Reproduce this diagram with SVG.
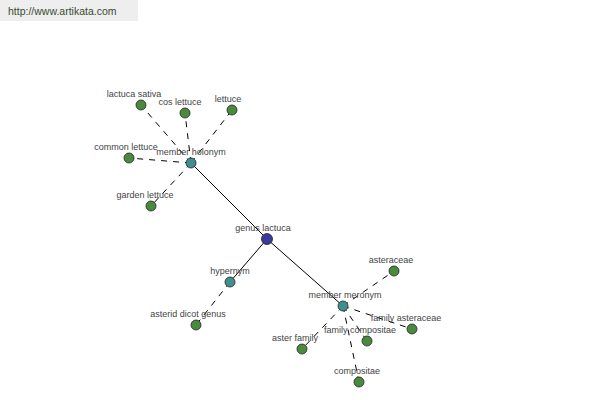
<svg xmlns="http://www.w3.org/2000/svg" width="600" height="400" viewBox="0 0 600 400">
<style>
.t{font-family:"Liberation Sans",Arial,sans-serif;font-size:9px;fill:#444;text-anchor:middle}
.s{stroke:#000;stroke-width:1;fill:none}
.d{stroke:#000;stroke-width:1;stroke-dasharray:6,6;fill:none}
.n{stroke:#222;stroke-width:0.8}
.g{fill:#4a8a3c}
.c{fill:#3f8f8f}
.b{fill:#3b3b9b}
</style>
<rect width="600" height="400" fill="#fff"/>
<rect x="0" y="0" width="138" height="21" fill="#eeeeee"/>
<text x="8" y="15" style="font-family:'Liberation Sans',Arial,sans-serif;font-size:10.5px;fill:#3a4a30">http://www.artikata.com</text>
<g id="connectors">
<line class="s" x1="267" y1="239" x2="191" y2="163"/>
<line class="s" x1="267" y1="239" x2="343" y2="306"/>
<line class="s" x1="267" y1="239" x2="230" y2="282"/>
<line class="d" x1="191" y1="163" x2="141" y2="105"/>
<line class="d" x1="191" y1="163" x2="185" y2="113"/>
<line class="d" x1="191" y1="163" x2="232" y2="110"/>
<line class="d" x1="191" y1="163" x2="129" y2="158"/>
<line class="d" x1="191" y1="163" x2="151" y2="206"/>
<line class="d" x1="230" y1="282" x2="196" y2="325"/>
<line class="d" x1="343" y1="306" x2="394" y2="271"/>
<line class="d" x1="343" y1="306" x2="412" y2="329"/>
<line class="d" x1="343" y1="306" x2="367" y2="341"/>
<line class="d" x1="343" y1="306" x2="302" y2="349"/>
<line class="d" x1="343" y1="306" x2="359" y2="382"/>
</g>
<g id="lactuca-sativa"><circle class="n g" cx="141" cy="105" r="5"/><text class="t" x="134" y="97">lactuca sativa</text></g>
<g id="cos-lettuce"><circle class="n g" cx="185" cy="113" r="5"/><text class="t" x="180" y="105">cos lettuce</text></g>
<g id="lettuce"><circle class="n g" cx="232" cy="110" r="5"/><text class="t" x="228" y="102">lettuce</text></g>
<g id="common-lettuce"><circle class="n g" cx="129" cy="158" r="5"/><text class="t" x="126" y="150">common lettuce</text></g>
<g id="garden-lettuce"><circle class="n g" cx="151" cy="206" r="5"/><text class="t" x="145" y="198">garden lettuce</text></g>
<g id="member-holonym"><circle class="n c" cx="191" cy="163" r="5"/><text class="t" x="191" y="155">member holonym</text></g>
<g id="genus-lactuca"><circle class="n b" cx="267" cy="239" r="5.5"/><text class="t" x="263" y="231">genus lactuca</text></g>
<g id="hypernym"><circle class="n c" cx="230" cy="282" r="5"/><text class="t" x="230" y="274">hypernym</text></g>
<g id="asterid-dicot-genus"><circle class="n g" cx="196" cy="325" r="5"/><text class="t" x="188" y="317">asterid dicot genus</text></g>
<g id="member-meronym"><circle class="n c" cx="343" cy="306" r="5"/><text class="t" x="345" y="298">member meronym</text></g>
<g id="asteraceae"><circle class="n g" cx="394" cy="271" r="5"/><text class="t" x="391" y="263">asteraceae</text></g>
<g id="family-asteraceae"><circle class="n g" cx="412" cy="329" r="5"/><text class="t" x="406" y="321">family asteraceae</text></g>
<g id="family-compositae"><circle class="n g" cx="367" cy="341" r="5"/><text class="t" x="360" y="333">family compositae</text></g>
<g id="aster-family"><circle class="n g" cx="302" cy="349" r="5"/><text class="t" x="295" y="341">aster family</text></g>
<g id="compositae"><circle class="n g" cx="359" cy="382" r="5"/><text class="t" x="357" y="374">compositae</text></g>
</svg>
